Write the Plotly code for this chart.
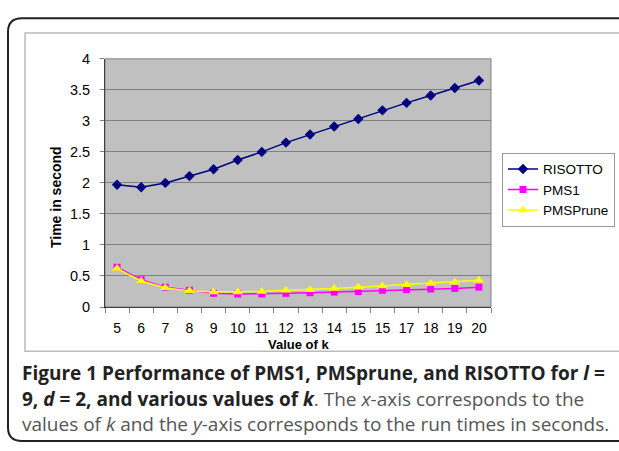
import plotly.graph_objects as go

W, H = 619, 451

k_values = list(range(5, 21))
k_labels = ["5", "6", "7", "8", "9", "10", "11", "12", "13", "14", "15", "15", "17", "18", "19", "20"]

risotto = [1.97, 1.93, 2.00, 2.11, 2.22, 2.37, 2.50, 2.65, 2.78, 2.91, 3.03, 3.17, 3.29, 3.41, 3.53, 3.65]
pms1 = [0.64, 0.44, 0.32, 0.27, 0.22, 0.21, 0.21, 0.22, 0.23, 0.24, 0.25, 0.27, 0.28, 0.29, 0.30, 0.32]
pmsprune = [0.62, 0.42, 0.31, 0.26, 0.24, 0.24, 0.25, 0.27, 0.28, 0.30, 0.32, 0.34, 0.36, 0.38, 0.40, 0.43]

y_ticks = [0, 0.5, 1, 1.5, 2, 2.5, 3, 3.5, 4]
y_ticklabels = ["0", "0.5", "1", "1.5", "2", "2.5", "3", "3.5", "4"]


def px(x):
    return x / W


def py(y):
    return 1 - y / H


fig = go.Figure()
fig.add_trace(go.Scatter(x=k_values, y=risotto, name="RISOTTO", mode="lines+markers",
                         line=dict(color="#000080", width=1.5),
                         marker=dict(symbol="diamond", size=8, color="#000080")))
fig.add_trace(go.Scatter(x=k_values, y=pms1, name="PMS1", mode="lines+markers",
                         line=dict(color="#FF00FF", width=1.5),
                         marker=dict(symbol="square", size=7, color="#FF00FF")))
fig.add_trace(go.Scatter(x=k_values, y=pmsprune, name="PMSPrune", mode="lines+markers",
                         line=dict(color="#FFFF00", width=1.5),
                         marker=dict(symbol="triangle-up", size=9, color="#FFFF00")))

plot_l, plot_r, plot_t, plot_b = 105, 491, 52.7, 310

fig.update_layout(
    width=W, height=H,
    margin=dict(l=0, r=0, t=0, b=0),
    paper_bgcolor="white",
    plot_bgcolor="#C0C0C0",
    font=dict(family="Liberation Sans, Arial", color="black"),
    xaxis=dict(
        domain=[px(plot_l), px(plot_r)],
        range=[4.5, 20.5],
        tickmode="array", tickvals=k_values, ticktext=k_labels,
        ticks="", showgrid=False, zeroline=False,
        showline=True, linecolor="black", linewidth=1,
        tickfont=dict(size=14),
        ticklabelstandoff=8,
        minor=dict(tickmode="array", tickvals=[v + 0.5 for v in [4] + k_values],
                   ticks="outside", ticklen=5, tickcolor="#808080", showgrid=False),
    ),
    yaxis=dict(
        domain=[py(plot_b), py(plot_t)],
        range=[0, 4],
        tickmode="array", tickvals=y_ticks, ticktext=y_ticklabels,
        ticks="outside", ticklen=4, tickcolor="#808080",
        showgrid=True, gridcolor="#808080", gridwidth=1,
        zeroline=False,
        showline=True, linecolor="black", linewidth=1,
        tickfont=dict(size=14.5),
        ticklabelstandoff=7,
    ),
    legend=dict(
        x=px(502), y=py(150), xanchor="left", yanchor="top",
        bgcolor="white", bordercolor="#999999", borderwidth=1,
        font=dict(size=13.5), tracegroupgap=0, itemwidth=30,
    ),
    showlegend=True,
)

# Axis titles
fig.add_annotation(text="<b>Value of k</b>", xref="paper", yref="paper",
                   x=px(298), y=py(348.5), xanchor="center", yanchor="middle",
                   showarrow=False, font=dict(size=13))
fig.add_annotation(text="<b>Time in second</b>", xref="paper", yref="paper",
                   x=px(56), y=py(196), xanchor="center", yanchor="middle", textangle=-90,
                   showarrow=False, font=dict(size=14))

# Plot area border (top/right gray)
fig.add_shape(type="rect", xref="x domain", yref="y domain", x0=0, x1=1, y0=0, y1=1,
              line=dict(color="#808080", width=1), layer="above")

# Inner chart frame (light gray)
fig.add_shape(type="rect", xref="paper", yref="paper",
              x0=px(25), x1=px(640), y0=py(356), y1=py(26),
              line=dict(color="#BBBBBB", width=1.5), layer="below")

# Outer rounded frame
r = 14
x0, y0, y1, xr = 8, 10.5, 449, 640
path = (f"M {px(xr)},{py(y0)} L {px(x0 + r)},{py(y0)} "
        f"Q {px(x0)},{py(y0)} {px(x0)},{py(y0 + r)} "
        f"L {px(x0)},{py(y1 - r)} "
        f"Q {px(x0)},{py(y1)} {px(x0 + r)},{py(y1)} "
        f"L {px(xr)},{py(y1)}")
fig.add_shape(type="path", xref="paper", yref="paper", path=path,
              line=dict(color="#222222", width=2))

cap_font = dict(family="Open Sans", size=19, color="#222222")
lines = [
    "<b>Figure 1 Performance of PMS1, PMSprune, and RISOTTO for <i>l</i> =</b>",
    "<b>9, <i>d</i> = 2, and various values of <i>k</i></b><span style='color:#555555'>. The <i>x</i>-axis corresponds to the</span>",
    "<span style='color:#555555'>values of <i>k</i> and the <i>y</i>-axis corresponds to the run times in seconds.</span>",
]
for i, (t, yy) in enumerate(zip(lines, [378, 405, 431])):
    fig.add_annotation(text=t, xref="paper", yref="paper", x=px(20), y=py(yy),
                       xanchor="left", yanchor="middle", showarrow=False, font=cap_font)

fig.write_html("out.html")
